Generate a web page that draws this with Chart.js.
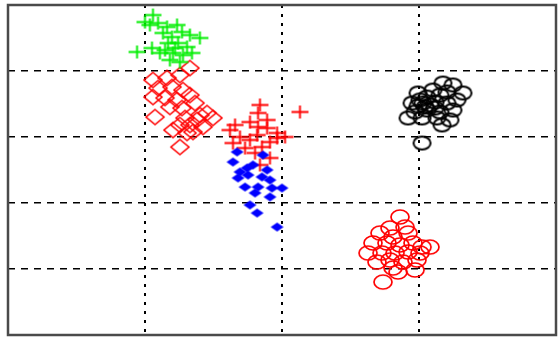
<!DOCTYPE html>
<html>
<head>
<meta charset="utf-8">
<script src="https://cdn.jsdelivr.net/npm/chart.js@4/dist/chart.umd.min.js"></script>
<style>
html,body{margin:0;padding:0;background:#fff;}
canvas{display:block;}
</style>
</head>
<body>
<canvas id="c" width="558" height="339"></canvas>
<script>
// Axis ranges / tick values (no labels shown in the reference)
const xTicks = [0, 1, 2, 3, 4];
const yTicks = [0, 1, 2, 3, 4, 5];

// Green plus cluster
const greenPlusX = [1.058,1.000,1.095,1.161,1.234,1.131,1.197,1.270,1.401,1.328,1.168,1.241,1.307,1.051,0.942,1.109,1.204,1.277,1.343,1.182,1.255,1.146,1.219,1.036];
const greenPlusY = [4.848,4.742,4.727,4.667,4.697,4.576,4.515,4.591,4.500,4.545,4.424,4.424,4.364,4.348,4.288,4.273,4.273,4.242,4.273,4.167,4.136,4.318,4.348,4.697];

// Red open diamonds
const redDiamondX = [1.328,1.255,1.058,1.161,1.095,1.197,1.277,1.328,1.058,1.146,1.234,1.365,1.182,1.270,1.453,1.073,1.292,1.380,1.496,1.328,1.423,1.255,1.204,1.350,1.255,1.307,1.401];
const redDiamondY = [4.045,3.939,3.864,3.894,3.742,3.758,3.712,3.636,3.606,3.591,3.561,3.515,3.455,3.439,3.364,3.303,3.288,3.258,3.288,3.182,3.152,3.182,3.106,3.076,2.848,3.061,3.333];

// Blue filled diamonds
const blueDiamondX = [1.672,1.642,1.788,1.861,1.679,1.752,1.854,1.912,1.730,1.825,1.927,2.000,1.803,1.912,1.766,1.818,1.964,1.693,1.745,1.891];
const blueDiamondY = [2.773,2.621,2.576,2.727,2.379,2.424,2.394,2.348,2.242,2.242,2.227,2.227,2.152,2.091,1.970,1.848,1.636,2.470,2.530,2.500];

// Red plus cluster
const redPlusX = [1.839,2.131,1.825,1.657,1.766,1.825,1.891,1.620,1.964,2.022,1.818,1.693,1.766,1.912,1.642,1.854,1.730,1.803,1.912,1.839,1.964,1.891];
const redPlusY = [3.485,3.379,3.364,3.182,3.227,3.152,3.136,3.106,3.061,3.000,3.030,3.000,2.955,2.924,2.909,2.848,2.833,2.758,2.682,2.576,2.985,3.258];

// Black open circles
const blackCircleX = [3.175,3.248,3.321,2.993,3.058,3.153,2.949,3.029,3.117,3.204,3.277,2.971,3.058,3.153,3.248,2.920,3.022,3.131,3.226,3.168,3.022,3.102,3.204,3.007,3.080,3.044,3.117,2.993];
const blackCircleY = [3.818,3.788,3.667,3.667,3.606,3.636,3.515,3.515,3.530,3.515,3.561,3.379,3.409,3.379,3.409,3.288,3.288,3.288,3.258,3.182,2.909,3.712,3.682,3.561,3.485,3.455,3.439,3.470];

// Red open circles
const redCircleX = [2.861,2.788,2.898,2.715,2.810,2.920,2.664,2.766,2.861,2.956,3.080,2.628,2.730,2.825,2.920,3.007,2.693,2.788,2.883,2.985,2.810,2.971,2.737,2.847,3.022];
const redCircleY = [1.788,1.621,1.636,1.545,1.485,1.545,1.394,1.394,1.364,1.394,1.333,1.242,1.242,1.242,1.258,1.242,1.106,1.136,1.106,1.136,1.015,0.985,0.803,0.955,1.333];

function pts(xs, ys){ return xs.map((x,i)=>({x:x, y:ys[i]})); }

function makeMarker(kind, w, h, color, lw){
  const pad = 2;
  const c = document.createElement('canvas');
  c.width = Math.ceil(w + pad*2); c.height = Math.ceil(h + pad*2);
  const g = c.getContext('2d');
  g.strokeStyle = color; g.fillStyle = color; g.lineWidth = lw;
  const cx = c.width/2, cy = c.height/2;
  g.beginPath();
  if (kind === 'plus'){
    g.moveTo(cx - w/2, cy); g.lineTo(cx + w/2, cy);
    g.moveTo(cx, cy - h/2); g.lineTo(cx, cy + h/2);
    g.stroke();
  } else if (kind === 'diamond' || kind === 'fdiamond'){
    g.moveTo(cx, cy - h/2); g.lineTo(cx + w/2, cy); g.lineTo(cx, cy + h/2); g.lineTo(cx - w/2, cy); g.closePath();
    if (kind === 'fdiamond') g.fill(); else g.stroke();
  } else if (kind === 'circle'){
    g.ellipse(cx, cy, w/2, h/2, 0, 0, Math.PI*2);
    g.stroke();
  }
  return c;
}

const mkGreenPlus = makeMarker('plus', 17, 13, '#00ee00', 1.9);
const mkRedDiamond = makeMarker('diamond', 18, 15, '#ff0000', 1.6);
const mkBlueDiamond = makeMarker('fdiamond', 13, 9, '#0000ff', 1);
const mkRedPlus = makeMarker('plus', 17, 13, '#ff0000', 1.9);
const mkBlackCircle = makeMarker('circle', 17, 13, '#000000', 2.0);
const mkRedCircle = makeMarker('circle', 18, 14, '#ff0000', 1.7);

const framePlugin = {
  id: 'frame',
  afterDraw(chart){
    const a = chart.chartArea, g = chart.ctx;
    g.save();
    g.strokeStyle = '#4a4a4a';
    g.lineWidth = 2.5;
    g.strokeRect(a.left, a.top, a.right - a.left, a.bottom - a.top);
    g.restore();
  }
};

function ds(data, img){
  return { data: data, pointStyle: img, pointRadius: 7, pointHoverRadius: 7, showLine: false };
}

new Chart(document.getElementById('c'), {
  type: 'scatter',
  data: {
    datasets: [
      ds(pts(greenPlusX, greenPlusY), mkGreenPlus),
      ds(pts(redDiamondX, redDiamondY), mkRedDiamond),
      ds(pts(blueDiamondX, blueDiamondY), mkBlueDiamond),
      ds(pts(redPlusX, redPlusY), mkRedPlus),
      ds(pts(blackCircleX, blackCircleY), mkBlackCircle),
      ds(pts(redCircleX, redCircleY), mkRedCircle)
    ]
  },
  options: {
    responsive: false,
    animation: false,
    layout: { autoPadding: false, padding: { left: 8, top: 5, right: 2, bottom: 4 } },
    plugins: { legend: { display: false }, tooltip: { enabled: false } },
    scales: {
      x: {
        type: 'linear', min: xTicks[0], max: xTicks[xTicks.length-1],
        afterBuildTicks: s => { s.ticks = xTicks.map(v => ({value: v})); },
        ticks: { display: false },
        grid: { drawTicks: false, color: '#000', lineWidth: 2 },
        border: { display: false, dash: [3, 6] }
      },
      y: {
        type: 'linear', min: yTicks[0], max: yTicks[yTicks.length-1],
        afterBuildTicks: s => { s.ticks = yTicks.map(v => ({value: v})); },
        ticks: { display: false },
        grid: { drawTicks: false, color: '#000', lineWidth: 1.6 },
        border: { display: false, dash: [7, 6] }
      }
    }
  },
  plugins: [framePlugin]
});
</script>
</body>
</html>
